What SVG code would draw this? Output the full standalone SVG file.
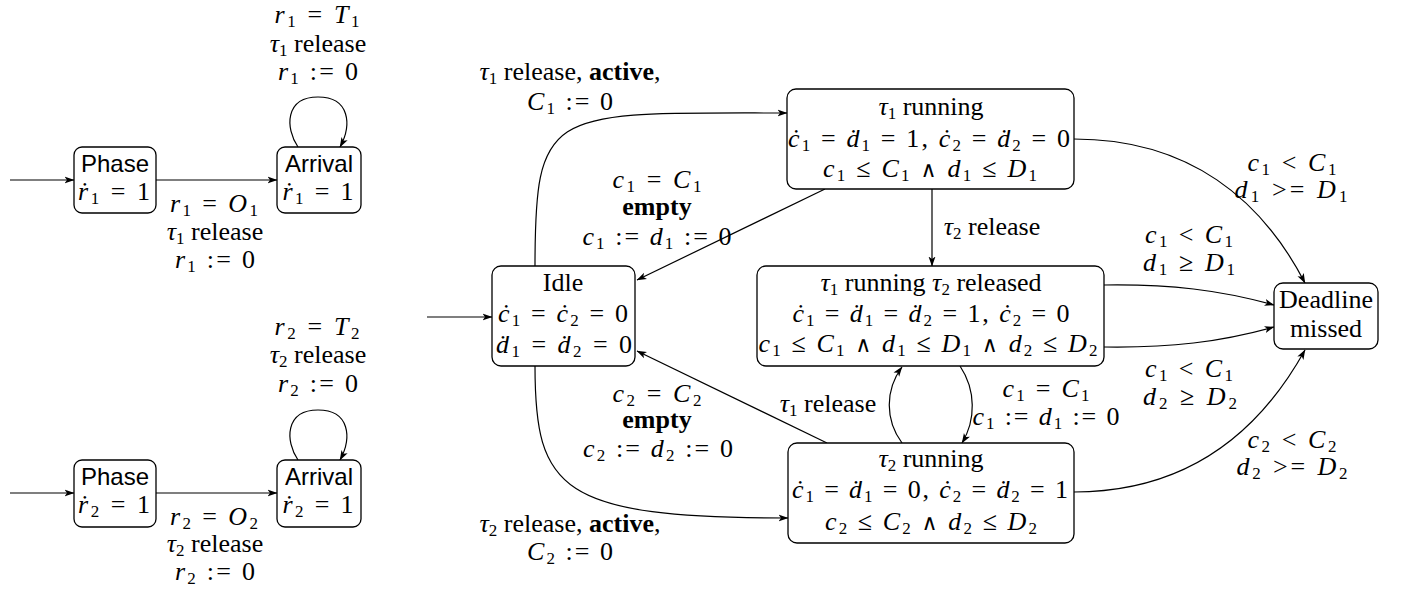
<svg xmlns="http://www.w3.org/2000/svg" width="1402" height="591" viewBox="0 0 1402 591">
<style>
.t{font-family:"Liberation Serif","DejaVu Serif",serif;font-size:26px;text-anchor:middle;fill:#000}
.sf{font-family:"Liberation Sans","DejaVu Sans",sans-serif;font-size:24px;text-anchor:middle;fill:#000}
.i{font-style:italic}
.b{font-weight:bold}
.s{font-size:17px}
.w{font-family:"DejaVu Serif",serif;font-size:22px}
.box{fill:#fff;stroke:#000;stroke-width:1.3}
.e{fill:none;stroke:#000;stroke-width:1.2;marker-end:url(#arr)}
</style>
<defs>
<marker id="arr" viewBox="0 0 10 8" refX="9.5" refY="4" markerWidth="10" markerHeight="8" markerUnits="userSpaceOnUse" orient="auto"><path d="M0,0.5 L10,4 L0,7.5 L2.5,4 Z" fill="#000"/></marker>
</defs>
<g id="connectors">
<path class="e" d="M10,180 L74,180"/>
<path class="e" d="M156,180 L277,180"/>
<path class="e" d="M298,147 C285,128 285,97 318,97 C350,97 352,125 340,147"/>
<path class="e" d="M10,493 L74,493"/>
<path class="e" d="M156,493 L277,493"/>
<path class="e" d="M298,460 C285,441 285,410 318,410 C350,410 352,438 340,460"/>
<path class="e" d="M427,317 L492,317"/>
<path class="e" d="M535,266 C535,105 550,113 787,113"/>
<path class="e" d="M535,366 C535,490 560,518 788,518"/>
<path class="e" d="M825,189 L637,280"/>
<path class="e" d="M827,443 L637,351"/>
<path class="e" d="M932,189 L932,266"/>
<path class="e" d="M902,443 C885,420 885,390 902,367"/>
<path class="e" d="M960,366 C976,390 976,420 962,443"/>
<path class="e" d="M1074,139 C1190,139 1262,200 1305,283"/>
<path class="e" d="M1104,285 C1170,284 1220,290 1274,305"/>
<path class="e" d="M1104,347 C1170,348 1220,342 1274,327"/>
<path class="e" d="M1074,492 C1180,492 1255,440 1305,350"/>
</g>
<g id="labels">
<text class="t" x="317" y="23" textLength="85"><tspan class="i">r</tspan><tspan class="s" dy="4">1</tspan><tspan dy="-4"> = </tspan><tspan class="i">T</tspan><tspan class="s" dy="4">1</tspan></text>
<text class="t" x="318" y="52"><tspan class="i">τ</tspan><tspan class="s" dy="4">1</tspan><tspan dy="-4"> release</tspan></text>
<text class="t" x="318" y="80" textLength="80"><tspan class="i">r</tspan><tspan class="s" dy="4">1</tspan><tspan dy="-4"> := 0</tspan></text>
<text class="t" x="214" y="212" textLength="88"><tspan class="i">r</tspan><tspan class="s" dy="4">1</tspan><tspan dy="-4"> = </tspan><tspan class="i">O</tspan><tspan class="s" dy="4">1</tspan></text>
<text class="t" x="215" y="240"><tspan class="i">τ</tspan><tspan class="s" dy="4">1</tspan><tspan dy="-4"> release</tspan></text>
<text class="t" x="215" y="268" textLength="80"><tspan class="i">r</tspan><tspan class="s" dy="4">1</tspan><tspan dy="-4"> := 0</tspan></text>
<text class="t" x="317" y="335" textLength="85"><tspan class="i">r</tspan><tspan class="s" dy="4">2</tspan><tspan dy="-4"> = </tspan><tspan class="i">T</tspan><tspan class="s" dy="4">2</tspan></text>
<text class="t" x="318" y="363"><tspan class="i">τ</tspan><tspan class="s" dy="4">2</tspan><tspan dy="-4"> release</tspan></text>
<text class="t" x="318" y="392" textLength="80"><tspan class="i">r</tspan><tspan class="s" dy="4">2</tspan><tspan dy="-4"> := 0</tspan></text>
<text class="t" x="214" y="525" textLength="88"><tspan class="i">r</tspan><tspan class="s" dy="4">2</tspan><tspan dy="-4"> = </tspan><tspan class="i">O</tspan><tspan class="s" dy="4">2</tspan></text>
<text class="t" x="215" y="552"><tspan class="i">τ</tspan><tspan class="s" dy="4">2</tspan><tspan dy="-4"> release</tspan></text>
<text class="t" x="215" y="580" textLength="80"><tspan class="i">r</tspan><tspan class="s" dy="4">2</tspan><tspan dy="-4"> := 0</tspan></text>
<text class="t" x="570" y="80"><tspan class="i">τ</tspan><tspan class="s" dy="4">1</tspan><tspan dy="-4"> release, </tspan><tspan class="b">active</tspan>,</text>
<text class="t" x="570" y="110" textLength="86"><tspan class="i">C</tspan><tspan class="s" dy="4">1</tspan><tspan dy="-4"> := 0</tspan></text>
<text class="t" x="657" y="188" textLength="89"><tspan class="i">c</tspan><tspan class="s" dy="4">1</tspan><tspan dy="-4"> = </tspan><tspan class="i">C</tspan><tspan class="s" dy="4">1</tspan></text>
<text class="t b" x="657" y="215">empty</text>
<text class="t" x="657" y="245" textLength="149"><tspan class="i">c</tspan><tspan class="s" dy="4">1</tspan><tspan dy="-4"> := </tspan><tspan class="i">d</tspan><tspan class="s" dy="4">1</tspan><tspan dy="-4"> := 0</tspan></text>
<text class="t" x="657" y="402" textLength="89"><tspan class="i">c</tspan><tspan class="s" dy="4">2</tspan><tspan dy="-4"> = </tspan><tspan class="i">C</tspan><tspan class="s" dy="4">2</tspan></text>
<text class="t b" x="657" y="428">empty</text>
<text class="t" x="658" y="457" textLength="150"><tspan class="i">c</tspan><tspan class="s" dy="4">2</tspan><tspan dy="-4"> := </tspan><tspan class="i">d</tspan><tspan class="s" dy="4">2</tspan><tspan dy="-4"> := 0</tspan></text>
<text class="t" x="570" y="532"><tspan class="i">τ</tspan><tspan class="s" dy="4">2</tspan><tspan dy="-4"> release, </tspan><tspan class="b">active</tspan>,</text>
<text class="t" x="570" y="560" textLength="86"><tspan class="i">C</tspan><tspan class="s" dy="4">2</tspan><tspan dy="-4"> := 0</tspan></text>
<text class="t" x="992" y="235"><tspan class="i">τ</tspan><tspan class="s" dy="4">2</tspan><tspan dy="-4"> release</tspan></text>
<text class="t" x="828" y="412"><tspan class="i">τ</tspan><tspan class="s" dy="4">1</tspan><tspan dy="-4"> release</tspan></text>
<text class="t" x="1046" y="397" textLength="87"><tspan class="i">c</tspan><tspan class="s" dy="4">1</tspan><tspan dy="-4"> = </tspan><tspan class="i">C</tspan><tspan class="s" dy="4">1</tspan></text>
<text class="t" x="1046" y="425" textLength="147"><tspan class="i">c</tspan><tspan class="s" dy="4">1</tspan><tspan dy="-4"> := </tspan><tspan class="i">d</tspan><tspan class="s" dy="4">1</tspan><tspan dy="-4"> := 0</tspan></text>
<text class="t" x="1292" y="171" textLength="89"><tspan class="i">c</tspan><tspan class="s" dy="4">1</tspan><tspan dy="-4"> &lt; </tspan><tspan class="i">C</tspan><tspan class="s" dy="4">1</tspan></text>
<text class="t" x="1291" y="198" textLength="113"><tspan class="i">d</tspan><tspan class="s" dy="4">1</tspan><tspan dy="-4"> &gt;= </tspan><tspan class="i">D</tspan><tspan class="s" dy="4">1</tspan></text>
<text class="t" x="1189" y="243" textLength="88"><tspan class="i">c</tspan><tspan class="s" dy="4">1</tspan><tspan dy="-4"> &lt; </tspan><tspan class="i">C</tspan><tspan class="s" dy="4">1</tspan></text>
<text class="t" x="1189" y="271" textLength="92"><tspan class="i">d</tspan><tspan class="s" dy="4">1</tspan><tspan dy="-4"> ≥ </tspan><tspan class="i">D</tspan><tspan class="s" dy="4">1</tspan></text>
<text class="t" x="1189" y="377" textLength="88"><tspan class="i">c</tspan><tspan class="s" dy="4">1</tspan><tspan dy="-4"> &lt; </tspan><tspan class="i">C</tspan><tspan class="s" dy="4">1</tspan></text>
<text class="t" x="1190" y="405" textLength="94"><tspan class="i">d</tspan><tspan class="s" dy="4">2</tspan><tspan dy="-4"> ≥ </tspan><tspan class="i">D</tspan><tspan class="s" dy="4">2</tspan></text>
<text class="t" x="1292" y="448" textLength="89"><tspan class="i">c</tspan><tspan class="s" dy="4">2</tspan><tspan dy="-4"> &lt; </tspan><tspan class="i">C</tspan><tspan class="s" dy="4">2</tspan></text>
<text class="t" x="1292" y="475" textLength="111"><tspan class="i">d</tspan><tspan class="s" dy="4">2</tspan><tspan dy="-4"> &gt;= </tspan><tspan class="i">D</tspan><tspan class="s" dy="4">2</tspan></text>
</g>
<g id="phase1">
<rect class="box" x="74" y="147" width="82" height="66" rx="8"/>
<text class="sf" x="115" y="172">Phase</text>
<text class="t" x="114" y="200" textLength="72"><tspan class="i">ṙ</tspan><tspan class="s" dy="4">1</tspan><tspan dy="-4"> = 1</tspan></text>
</g>
<g id="arrival1">
<rect class="box" x="277" y="147" width="84" height="66" rx="8"/>
<text class="sf" x="319" y="172">Arrival</text>
<text class="t" x="318" y="200" textLength="71"><tspan class="i">ṙ</tspan><tspan class="s" dy="4">1</tspan><tspan dy="-4"> = 1</tspan></text>
</g>
<g id="phase2">
<rect class="box" x="74" y="460" width="82" height="67" rx="8"/>
<text class="sf" x="115" y="485">Phase</text>
<text class="t" x="114" y="513" textLength="72"><tspan class="i">ṙ</tspan><tspan class="s" dy="4">2</tspan><tspan dy="-4"> = 1</tspan></text>
</g>
<g id="arrival2">
<rect class="box" x="277" y="460" width="84" height="67" rx="8"/>
<text class="sf" x="319" y="485">Arrival</text>
<text class="t" x="318" y="513" textLength="71"><tspan class="i">ṙ</tspan><tspan class="s" dy="4">2</tspan><tspan dy="-4"> = 1</tspan></text>
</g>
<g id="idle">
<rect class="box" x="492" y="266" width="143" height="100" rx="9"/>
<text class="t" x="563" y="291">Idle</text>
<text class="t" x="563" y="322" textLength="130"><tspan class="i">ċ</tspan><tspan class="s" dy="4">1</tspan><tspan dy="-4"> = </tspan><tspan class="i">ċ</tspan><tspan class="s" dy="4">2</tspan><tspan dy="-4"> = 0</tspan></text>
<text class="t" x="564" y="353" textLength="136"><tspan class="i">ḋ</tspan><tspan class="s" dy="4">1</tspan><tspan dy="-4"> = </tspan><tspan class="i">ḋ</tspan><tspan class="s" dy="4">2</tspan><tspan dy="-4"> = 0</tspan></text>
</g>
<g id="t1running">
<rect class="box" x="787" y="89" width="287" height="100" rx="9"/>
<text class="t" x="931" y="115"><tspan class="i">τ</tspan><tspan class="s" dy="4">1</tspan><tspan dy="-4"> running</tspan></text>
<text class="t" x="929" y="147" textLength="282"><tspan class="i">ċ</tspan><tspan class="s" dy="4">1</tspan><tspan dy="-4"> = </tspan><tspan class="i">ḋ</tspan><tspan class="s" dy="4">1</tspan><tspan dy="-4"> = 1, </tspan><tspan class="i">ċ</tspan><tspan class="s" dy="4">2</tspan><tspan dy="-4"> = </tspan><tspan class="i">ḋ</tspan><tspan class="s" dy="4">2</tspan><tspan dy="-4"> = 0</tspan></text>
<text class="t" x="930" y="177" textLength="214"><tspan class="i">c</tspan><tspan class="s" dy="4">1</tspan><tspan dy="-4"> ≤ </tspan><tspan class="i">C</tspan><tspan class="s" dy="4">1</tspan><tspan dy="-4"> </tspan><tspan class="w">∧</tspan><tspan> </tspan><tspan class="i">d</tspan><tspan class="s" dy="4">1</tspan><tspan dy="-4"> ≤ </tspan><tspan class="i">D</tspan><tspan class="s" dy="4">1</tspan></text>
</g>
<g id="t1running_t2released">
<rect class="box" x="757" y="266" width="347" height="100" rx="9"/>
<text class="t" x="931" y="291"><tspan class="i">τ</tspan><tspan class="s" dy="4">1</tspan><tspan dy="-4"> running </tspan><tspan class="i">τ</tspan><tspan class="s" dy="4">2</tspan><tspan dy="-4"> released</tspan></text>
<text class="t" x="931" y="322" textLength="277"><tspan class="i">ċ</tspan><tspan class="s" dy="4">1</tspan><tspan dy="-4"> = </tspan><tspan class="i">ḋ</tspan><tspan class="s" dy="4">1</tspan><tspan dy="-4"> = </tspan><tspan class="i">ḋ</tspan><tspan class="s" dy="4">2</tspan><tspan dy="-4"> = 1, </tspan><tspan class="i">ċ</tspan><tspan class="s" dy="4">2</tspan><tspan dy="-4"> = 0</tspan></text>
<text class="t" x="928" y="352" textLength="339"><tspan class="i">c</tspan><tspan class="s" dy="4">1</tspan><tspan dy="-4"> ≤ </tspan><tspan class="i">C</tspan><tspan class="s" dy="4">1</tspan><tspan dy="-4"> </tspan><tspan class="w">∧</tspan><tspan> </tspan><tspan class="i">d</tspan><tspan class="s" dy="4">1</tspan><tspan dy="-4"> ≤ </tspan><tspan class="i">D</tspan><tspan class="s" dy="4">1</tspan><tspan dy="-4"> </tspan><tspan class="w">∧</tspan><tspan> </tspan><tspan class="i">d</tspan><tspan class="s" dy="4">2</tspan><tspan dy="-4"> ≤ </tspan><tspan class="i">D</tspan><tspan class="s" dy="4">2</tspan></text>
</g>
<g id="t2running">
<rect class="box" x="788" y="443" width="286" height="100" rx="9"/>
<text class="t" x="931" y="467"><tspan class="i">τ</tspan><tspan class="s" dy="4">2</tspan><tspan dy="-4"> running</tspan></text>
<text class="t" x="930" y="498" textLength="276"><tspan class="i">ċ</tspan><tspan class="s" dy="4">1</tspan><tspan dy="-4"> = </tspan><tspan class="i">ḋ</tspan><tspan class="s" dy="4">1</tspan><tspan dy="-4"> = 0, </tspan><tspan class="i">ċ</tspan><tspan class="s" dy="4">2</tspan><tspan dy="-4"> = </tspan><tspan class="i">ḋ</tspan><tspan class="s" dy="4">2</tspan><tspan dy="-4"> = 1</tspan></text>
<text class="t" x="931" y="530" textLength="212"><tspan class="i">c</tspan><tspan class="s" dy="4">2</tspan><tspan dy="-4"> ≤ </tspan><tspan class="i">C</tspan><tspan class="s" dy="4">2</tspan><tspan dy="-4"> </tspan><tspan class="w">∧</tspan><tspan> </tspan><tspan class="i">d</tspan><tspan class="s" dy="4">2</tspan><tspan dy="-4"> ≤ </tspan><tspan class="i">D</tspan><tspan class="s" dy="4">2</tspan></text>
</g>
<g id="deadline">
<rect class="box" x="1274" y="283" width="104" height="66" rx="9"/>
<text class="t" x="1326" y="308">Deadline</text>
<text class="t" x="1326" y="337">missed</text>
</g>
</svg>
